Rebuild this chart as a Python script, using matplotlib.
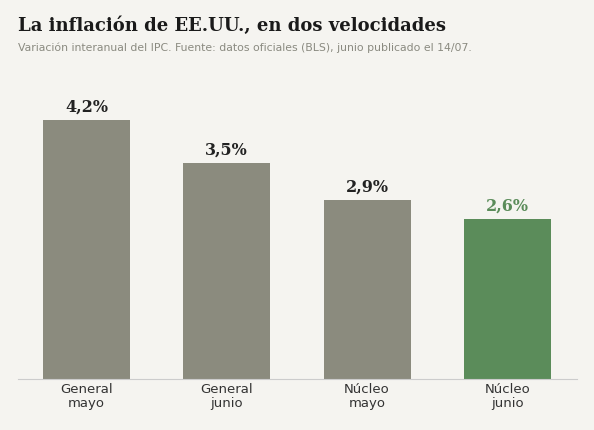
import matplotlib
matplotlib.use("Agg")
import matplotlib.pyplot as plt

categories = ["General\nmayo", "General\njunio", "Núcleo\nmayo", "Núcleo\njunio"]
values = [4.2, 3.5, 2.9, 2.6]
labels = ["4,2%", "3,5%", "2,9%", "2,6%"]
colors = ["#8b8b7e", "#8b8b7e", "#8b8b7e", "#5b8c5a"]

bg = "#f5f4f0"
fig = plt.figure(figsize=(5.94, 4.30), dpi=100, facecolor=bg)
ax = fig.add_axes([18 / 594, 51 / 430, 559 / 594, 304 / 430], facecolor=bg)

x = list(range(len(values)))
ax.bar(x, values, width=0.62, color=colors)
for xi, v, lab, c in zip(x, values, labels, colors):
    tc = "#5b8c5a" if c == "#5b8c5a" else "#222222"
    ax.text(xi, v + 0.07, lab, ha="center", va="bottom", fontsize=11.5,
            fontweight="bold", family="DejaVu Serif", color=tc)

ax.set_xlim(-0.488, 3.496)
ax.set_ylim(0, 4.93)
ax.set_xticks(x)
ax.set_xticklabels(categories, fontsize=9.5, color="#333333", linespacing=1.1)
ax.tick_params(axis="x", length=0, pad=3)
ax.set_yticks([])
for s in ["top", "right", "left"]:
    ax.spines[s].set_visible(False)
ax.spines["bottom"].set_color("#cccccc")

fig.text(18 / 594, 1 - 26 / 430, "La inflación de EE.UU., en dos velocidades",
         fontsize=13, fontweight="bold", family="DejaVu Serif", color="#1a1a1a", va="center")
fig.text(18 / 594, 1 - 48 / 430,
         "Variación interanual del IPC. Fuente: datos oficiales (BLS), junio publicado el 14/07.",
         fontsize=7.8, color="#8a8a80", va="center")

fig.savefig("out.png", dpi=100, facecolor=bg)
